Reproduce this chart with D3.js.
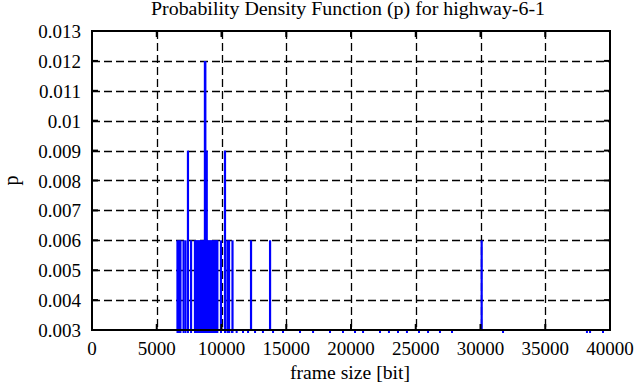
<!DOCTYPE html>
<html>
<head>
<meta charset="utf-8">
<script src="https://cdn.jsdelivr.net/npm/d3@7"></script>
<style>
  body { margin: 0; background: #fff; }
  text { font-family: "Liberation Serif", "DejaVu Serif", serif; fill: #000; }
</style>
</head>
<body>
<div id="chart"></div>
<script>
// frame sizes [bit] and probability for the visible impulses
var frameSizes = [6600, 6720, 6830, 7070, 7220, 7410, 7650, 7950, 8030, 8110, 8190, 8270, 8350,
                  8430, 8510, 8590, 8670, 8720, 8750, 8860, 8900, 8980, 9060, 9140, 9220,
                  9300, 9380, 9460, 9540, 9620, 9680, 9960,
                  10270, 10460, 10580, 10850, 12280, 13750, 30090];
var probs = [0.006, 0.006, 0.006, 0.006, 0.006, 0.009, 0.006, 0.006, 0.006, 0.006, 0.006, 0.006, 0.006,
             0.006, 0.006, 0.006, 0.006, 0.012, 0.012, 0.009, 0.006, 0.006, 0.006, 0.006, 0.006,
             0.006, 0.006, 0.006, 0.006, 0.006, 0.006, 0.006,
             0.009, 0.006, 0.006, 0.006, 0.006, 0.006, 0.006];
// frame sizes that only occur at p = 0.003 (on the lower border)
var lowSizes = [10790, 11170, 11660, 12050, 12590, 13200, 13980, 14750, 16060, 17070, 18380,
                19380, 20310, 20930, 22240, 22930, 23630, 24320, 25250, 25950, 26870, 27800,
                31740, 38220, 38460, 39460];

var xTicks = [0, 5000, 10000, 15000, 20000, 25000, 30000, 35000, 40000];
var yTicks = [0.003, 0.004, 0.005, 0.006, 0.007, 0.008, 0.009, 0.01, 0.011, 0.012, 0.013];

var margin = {top: 31, right: 26, bottom: 57, left: 92},
    W = 636, H = 387,
    width = W - margin.left - margin.right,
    height = H - margin.top - margin.bottom;

var svg = d3.select("#chart").append("svg")
    .attr("width", W).attr("height", H);

var g = svg.append("g")
    .attr("transform", "translate(" + margin.left + "," + margin.top + ")");

var x = d3.scaleLinear().domain([0, 40000]).range([0, width]);
var y = d3.scaleLinear().domain([0.003, 0.013]).range([height, 0]);

// dashed grid
g.selectAll(".vgrid").data(xTicks.slice(1, -1)).enter().append("line")
    .attr("x1", function(d) { return Math.round(x(d)) + 0.5; })
    .attr("x2", function(d) { return Math.round(x(d)) + 0.5; })
    .attr("y1", 0).attr("y2", height)
    .attr("stroke", "#000").attr("stroke-width", 1.3)
    .attr("stroke-dasharray", "8,4");
g.selectAll(".hgrid").data(yTicks.slice(1, -1)).enter().append("line")
    .attr("y1", function(d) { return Math.round(y(d)) + 0.5; })
    .attr("y2", function(d) { return Math.round(y(d)) + 0.5; })
    .attr("x1", 0).attr("x2", width)
    .attr("stroke", "#000").attr("stroke-width", 1.3)
    .attr("stroke-dasharray", "8,4");

// impulses
g.selectAll(".imp").data(frameSizes).enter().append("line")
    .attr("x1", function(d) { return x(d); })
    .attr("x2", function(d) { return x(d); })
    .attr("y1", y(0.003))
    .attr("y2", function(d, i) { return y(probs[i]); })
    .attr("stroke", "#0000ff").attr("stroke-width", 2.2);

// small specks for p at the lower limit
g.selectAll(".low").data(lowSizes.concat(frameSizes.slice(0, 36))).enter().append("line")
    .attr("x1", function(d) { return x(d); })
    .attr("x2", function(d) { return x(d); })
    .attr("y1", y(0.003) + 1)
    .attr("y2", y(0.003) + 3)
    .attr("stroke", "#0000ff").attr("stroke-width", 2);

// ticks (inside, all four sides)
var tl = 6;
g.selectAll(".xtb").data(xTicks).enter().append("line")
    .attr("x1", function(d) { return x(d); }).attr("x2", function(d) { return x(d); })
    .attr("y1", height).attr("y2", height - tl)
    .attr("stroke", "#000").attr("stroke-width", 2);
g.selectAll(".xtt").data(xTicks).enter().append("line")
    .attr("x1", function(d) { return x(d); }).attr("x2", function(d) { return x(d); })
    .attr("y1", 0).attr("y2", tl)
    .attr("stroke", "#000").attr("stroke-width", 2);
g.selectAll(".ytl").data(yTicks).enter().append("line")
    .attr("y1", function(d) { return y(d); }).attr("y2", function(d) { return y(d); })
    .attr("x1", 0).attr("x2", tl)
    .attr("stroke", "#000").attr("stroke-width", 2);
g.selectAll(".ytr").data(yTicks).enter().append("line")
    .attr("y1", function(d) { return y(d); }).attr("y2", function(d) { return y(d); })
    .attr("x1", width).attr("x2", width - tl)
    .attr("stroke", "#000").attr("stroke-width", 2);

// border
g.append("rect")
    .attr("x", 0).attr("y", 0).attr("width", width).attr("height", height)
    .attr("fill", "none").attr("stroke", "#000").attr("stroke-width", 2);

// tick labels
g.selectAll(".xl").data(xTicks).enter().append("text")
    .attr("x", function(d) { return x(d); })
    .attr("y", height + 25)
    .attr("text-anchor", "middle")
    .style("font-size", "19px")
    .text(function(d) { return d; });
g.selectAll(".yl").data(yTicks).enter().append("text")
    .attr("x", -11)
    .attr("y", function(d) { return y(d) + 7; })
    .attr("text-anchor", "end")
    .style("font-size", "19px")
    .text(function(d) { return d3.format("")(+d.toFixed(3)); });

// titles
svg.append("text")
    .attr("x", 348).attr("y", 15)
    .attr("text-anchor", "middle")
    .attr("textLength", 394).attr("lengthAdjust", "spacingAndGlyphs")
    .style("font-size", "18px")
    .text("Probability Density Function (p) for highway-6-1");
svg.append("text")
    .attr("x", 350).attr("y", 379)
    .attr("text-anchor", "middle")
    .attr("textLength", 120).attr("lengthAdjust", "spacingAndGlyphs")
    .style("font-size", "19px")
    .text("frame size [bit]");
svg.append("text")
    .attr("transform", "translate(18," + (margin.top + height / 2) + ") rotate(-90)")
    .attr("text-anchor", "middle")
    .style("font-size", "20px")
    .text("p");
</script>
</body>
</html>
